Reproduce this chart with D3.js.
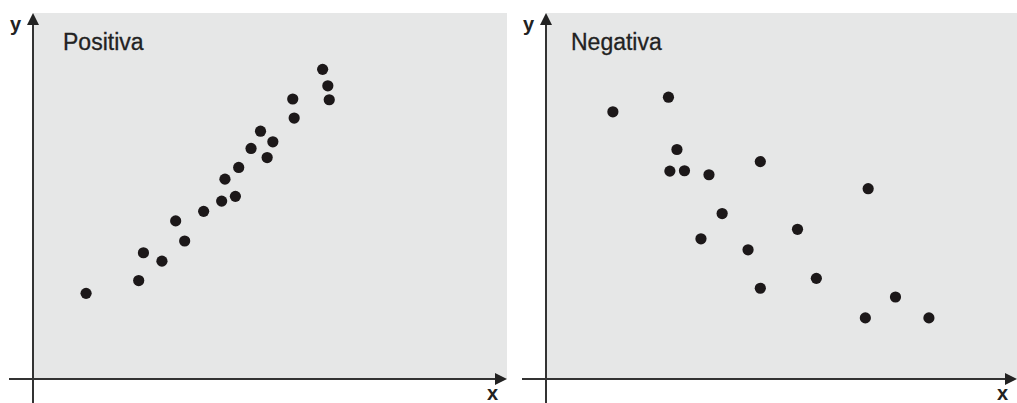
<!DOCTYPE html>
<html><head><meta charset="utf-8">
<script src="https://cdn.jsdelivr.net/npm/d3@7/dist/d3.min.js"></script>
<style>body{margin:0;background:#fff}svg{display:block}</style>
</head><body>
<script>
// Data (arbitrary units 0-10)
const panelTitles = ["Positiva", "Negativa"];
const posX = [1.12,2.23,2.33,2.72,3.01,3.20,3.60,3.98,4.27,4.05,4.34,4.60,4.80,5.06,4.94,5.48,5.51,6.11,6.22,6.25];
const posY = [2.34,2.69,3.45,3.22,4.32,3.77,4.58,4.86,4.99,5.46,5.78,6.30,6.77,6.48,6.05,7.65,7.13,8.46,8.01,7.63];
const negX = [1.42,2.60,2.78,2.63,2.94,3.46,4.55,6.84,3.74,3.29,5.34,4.29,5.74,4.55,7.42,6.78,8.13];
const negY = [7.30,7.70,6.27,5.68,5.69,5.58,5.94,5.20,4.52,3.83,4.09,3.53,2.75,2.48,2.24,1.67,1.67];

const W = 1017, H = 403;
const svg = d3.select("body").append("svg").attr("width", W).attr("height", H);

const panels = [
  {title: panelTitles[0], xs: posX, ys: posY, x0: 33, x1: 507},
  {title: panelTitles[1], xs: negX, ys: negY, x0: 546, x1: 1017}
];
const plotTop = 13, plotBase = 379;
const axisCol = "#333", dotCol = "#1c1819";

panels.forEach(p => {
  const x = d3.scaleLinear().domain([0, 10]).range([p.x0, p.x0 + (p.x1 - p.x0)]);
  const y = d3.scaleLinear().domain([0, 10]).range([plotBase, plotTop]);
  const g = svg.append("g");
  g.append("rect").attr("x", p.x0).attr("y", plotTop).attr("width", p.x1 - p.x0).attr("height", plotBase - plotTop).attr("fill", "#e6e7e7");
  g.append("line").attr("x1", p.x0 - 24).attr("x2", p.x1 - 10).attr("y1", plotBase).attr("y2", plotBase)
    .attr("stroke", axisCol).attr("stroke-width", 2);
  g.append("line").attr("x1", p.x0).attr("x2", p.x0).attr("y1", plotTop + 10).attr("y2", H)
    .attr("stroke", axisCol).attr("stroke-width", 2);
  g.append("path").attr("d", `M${p.x0},${plotTop} L${p.x0 - 6},${plotTop + 12} L${p.x0 + 6},${plotTop + 12} Z`).attr("fill", "#222");
  g.append("path").attr("d", `M${p.x1},${plotBase} L${p.x1 - 12},${plotBase - 6} L${p.x1 - 12},${plotBase + 6} Z`).attr("fill", "#222");
  g.append("text").attr("x", p.x0 - 23).attr("y", 31).text("y")
    .attr("font-family", "Liberation Sans, Arial, sans-serif").attr("font-weight", "bold").attr("font-size", 20).attr("fill", "#222");
  g.append("text").attr("x", p.x1 - 20).attr("y", 400).text("x")
    .attr("font-family", "Liberation Sans, Arial, sans-serif").attr("font-weight", "bold").attr("font-size", 20).attr("fill", "#222");
  g.append("text").attr("x", p.x0 + (p.title === "Positiva" ? 30 : 25)).attr("y", 50).text(p.title)
    .attr("font-family", "Liberation Sans, Arial, sans-serif").attr("font-size", 23).attr("fill", "#222")
    .attr("stroke", "#222").attr("stroke-width", 0.3);
  g.selectAll("circle").data(p.xs.map((v, i) => [v, p.ys[i]])).join("circle")
    .attr("cx", d => x(d[0])).attr("cy", d => y(d[1])).attr("r", 5.6).attr("fill", dotCol);
});
</script>
</body></html>
